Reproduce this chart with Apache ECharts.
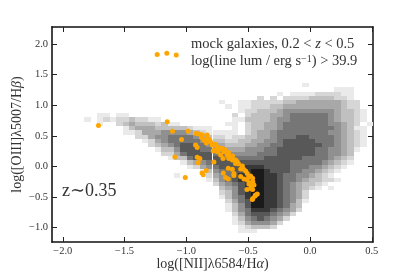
<!DOCTYPE html>
<html><head><meta charset="utf-8">
<script src="https://cdn.jsdelivr.net/npm/echarts@6/dist/echarts.min.js"></script>
<style>html,body{margin:0;padding:0;background:#fff}#c{width:415px;height:277px}</style></head>
<body><div id="c"></div>
<script>
const xRange=[-2.087,0.51], yRange=[-1.233,2.278];
const xTicks=[-2,-1.5,-1,-0.5,0,0.5], yTicks=[-1,-0.5,0,0.5,1,1.5,2];
const bins=50;
// density histogram: bin row (from bottom), first bin column, grey levels
const segRows=[36,35,34,33,32,31,30,29,29,28,28,27,27,26,25,24,23,22,21,20,19,18,17,16,15,14,13,12,11,10,9,8,7,6,5,4,3,2];
const segCols=[39,44,35,32,26,27,29,7,28,5,28,7,27,11,11,13,14,15,16,17,18,20,21,23,19,24,25,26,26,26,27,27,27,28,28,28,29,29];
const segLevels=["1","111","101111222211","202022223333221","1001122222334444444322","101122233444444444322","12233345555555543321","11011","202333445666666543321","101212232211","113333455666666543321","1002343332311","11023344566666665543201","13444333332111000102334456666666654311","11244455554321111102344566666666554321","224556666543221223344566677666654321","12456666654332233445567777766654321","2345677665443334455667777776654321","13357776655444555667777776655431","224677776655555666777777665543","13367777766666677777766665432","134567777777777776666654321","1245677788887777666554321","1356677899877766554321","1000024567889988766554321","135678999887665433221","245678998876543321","345789988765432101","23578998876542","13568998876542","2467998876531","135799887643","135688876542","2467776542","135676542","12455542","123332","111"];
const greys=["#ffffff","#eaeaea","#d6d6d6","#c0c0c0","#a8a8a8","#909090","#767676","#585858","#383838","#1a1a1a"];
const galaxyX=[-1.236,-1.158,-1.082,-1.711,-1.155,-1.112,-0.986,-1.039,-0.92,-0.897,-0.871,-0.877,-0.839,-0.839,-0.804,-0.79,-0.764,-0.75,-0.782,-0.742,-0.925,-0.912,-1.093,-0.912,-0.891,-0.904,-0.777,-0.696,-0.669,-0.704,-0.656,-0.628,-0.602,-0.588,-0.602,-0.661,-0.628,-0.547,-0.537,-0.615,-0.615,-0.701,-0.683,-0.661,-0.839,-0.873,-0.863,-1.009,-0.561,-0.507,-0.534,-0.48,-0.507,-0.48,-0.462,-0.494,-0.472,-0.453,-0.51,-0.48,-0.464,-0.426,-0.44,-0.445,-0.462,-0.466,-0.709,-0.777,-0.75,-0.642,-0.723,-0.831,-0.858,-0.82,-0.731,-0.69,-0.658,-0.626,-0.577,-0.561,-0.52,-0.496,-0.464,-0.488];
const galaxyY=[1.83,1.85,1.82,0.67,0.73,0.575,0.58,0.44,0.54,0.53,0.52,0.475,0.44,0.385,0.40,0.35,0.365,0.32,0.255,0.255,0.35,0.31,0.155,0.15,0.13,0.06,0.075,0.24,0.185,0.13,0.13,0.105,0.105,0.077,0.05,-0.03,-0.047,0.007,-0.047,-0.113,-0.149,-0.108,-0.178,-0.206,-0.067,-0.108,-0.136,-0.178,-0.165,-0.116,-0.206,-0.157,-0.222,-0.266,-0.25,-0.287,-0.32,-0.304,-0.374,-0.361,-0.374,-0.451,-0.467,-0.483,-0.521,-0.537,0.295,0.268,0.24,0.158,0.186,0.513,0.431,0.447,0.30,0.276,0.227,0.17,0.04,-0.042,-0.075,-0.173,-0.19,-0.287];

const dx=(xRange[1]-xRange[0])/bins, dy=(yRange[1]-yRange[0])/bins;
const cells=[];
segRows.forEach((r,i)=>{[...segLevels[i]].forEach((ch,j)=>{const l=+ch;if(l>0)cells.push([xRange[0]+(segCols[i]+j)*dx,yRange[0]+r*dy,l]);});});
const serif='"Liberation Serif","DejaVu Serif",serif';
const fmt=v=>(v<0?'\u2212':'')+Math.abs(v).toFixed(1);
const chart=echarts.init(document.getElementById('c'),null,{renderer:'canvas'});
const tick=(vals)=>({show:true,inside:true,length:5,customValues:vals,lineStyle:{color:'#222',width:1}});
const lab=(vals,m)=>({show:true,customValues:vals,formatter:fmt,fontFamily:serif,fontSize:10.5,color:'#333',margin:m});
const nameRich={a:{fontFamily:serif,fontSize:14,color:'#333'},i:{fontFamily:serif,fontStyle:'italic',fontSize:14,color:'#333'}};
chart.setOption({
 animation:false,
 grid:{left:52,right:42,top:27,bottom:35,outerBoundsMode:'none'},
 xAxis:[
  {type:'value',position:'bottom',min:xRange[0],max:xRange[1],splitLine:{show:false},axisLine:{onZero:false,lineStyle:{color:'#111',width:1.5}},axisTick:tick(xTicks),axisLabel:lab(xTicks,4),
   name:'{a|log([NII]\u03bb6584/H}{i|\u03b1}{a|)}',nameLocation:'middle',nameGap:15,nameMoveOverlap:false,nameTextStyle:{rich:nameRich}},
  {type:'value',position:'top',min:xRange[0],max:xRange[1],splitLine:{show:false},axisLine:{onZero:false,lineStyle:{color:'#111',width:1.5}},axisTick:tick(xTicks),axisLabel:{show:false}}
 ],
 yAxis:[
  {type:'value',position:'left',min:yRange[0],max:yRange[1],splitLine:{show:false},axisLine:{onZero:false,lineStyle:{color:'#444',width:2}},axisTick:tick(yTicks),axisLabel:lab(yTicks,4),
   name:'{a|log([OIII]\u03bb5007/H}{i|\u03b2}{a|)}',nameLocation:'middle',nameGap:28,nameMoveOverlap:false,nameTextStyle:{rich:nameRich}},
  {type:'value',position:'right',min:yRange[0],max:yRange[1],splitLine:{show:false},axisLine:{onZero:false,lineStyle:{color:'#111',width:1.5}},axisTick:tick(yTicks),axisLabel:{show:false}}
 ],
 series:[
  {type:'custom',coordinateSystem:'cartesian2d',data:cells,progressive:0,silent:true,z:1,
   encode:{x:0,y:1},
   renderItem:(p,api)=>{
    const x=api.value(0),y=api.value(1),l=api.value(2);
    const a=api.coord([x,y+dy]),b=api.coord([x+dx,y]);
    return {type:'rect',shape:{x:Math.round(a[0]),y:Math.round(a[1]),width:Math.round(b[0])-Math.round(a[0]),height:Math.round(b[1])-Math.round(a[1])},style:{fill:greys[l]}};
   }},
  {type:'scatter',data:galaxyX.map((x,i)=>[x,galaxyY[i]]),symbolSize:5,itemStyle:{color:'#ffa500',opacity:1},z:3,silent:true}
 ],
 graphic:[
  {type:'text',left:191,top:37,z:10,style:{rich:{a:{fontFamily:serif,fontSize:14.5,fill:'#333'},i:{fontFamily:serif,fontStyle:'italic',fontSize:14.5,fill:'#333'}},text:'{a|mock galaxies, 0.2 < }{i|z}{a| < 0.5}'}},
  {type:'text',left:191,top:54,z:10,style:{rich:{a:{fontFamily:serif,fontSize:14.5,fill:'#333'},s:{fontFamily:serif,fontSize:10,fill:'#333',verticalAlign:'top'}},text:'{a|log(line lum / erg s}{s|\u22121}{a|) > 39.9}'}},
  {type:'text',left:62,top:182,z:10,style:{text:'z\u223c0.35',fontFamily:serif,fontSize:18,fill:'#333'}}
 ]
});
</script></body></html>
